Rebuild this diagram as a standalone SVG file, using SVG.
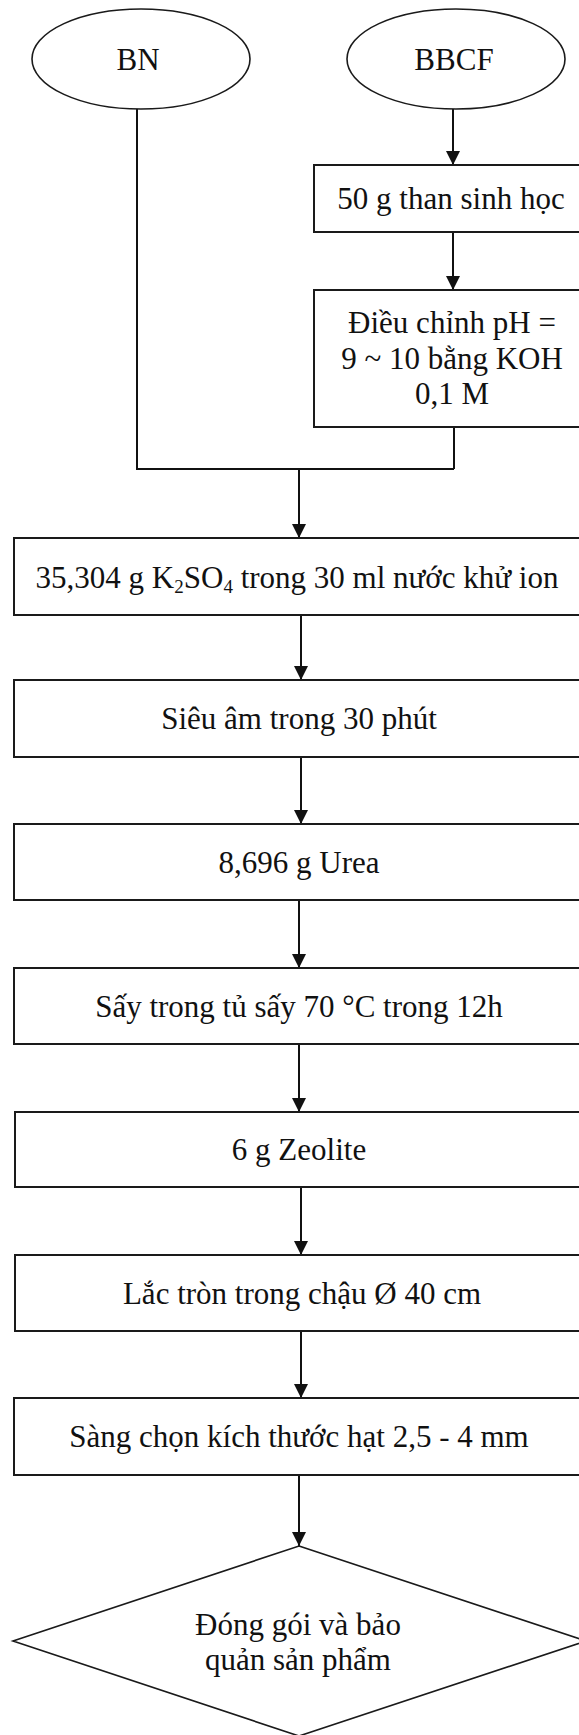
<svg xmlns="http://www.w3.org/2000/svg" width="579" height="1735" viewBox="0 0 579 1735">
<defs>
<style>
.n{fill:#fff;stroke:#1a1a1a;stroke-width:2}
.e{fill:#fff;stroke:#1a1a1a;stroke-width:1.6}
.t{font-family:"Liberation Serif","Times New Roman",serif;font-size:31px;fill:#111;text-anchor:middle}
.c{fill:none;stroke:#111;stroke-width:2}
.s{font-size:19px}
</style>
<marker id="ah" markerUnits="userSpaceOnUse" markerWidth="14" markerHeight="15" refX="14" refY="7" orient="auto">
<path d="M0,0 L14,7 L0,14 Z" fill="#111"/>
</marker>
</defs>
<rect width="579" height="1735" fill="#fff"/>
<g id="connectors">
<polyline class="c" points="137,109 137,469 454,469"/>
<line class="c" x1="454" y1="427" x2="454" y2="469"/>
<line class="c" x1="299" y1="469" x2="299" y2="538" marker-end="url(#ah)"/>
<line class="c" x1="453" y1="109" x2="453" y2="165" marker-end="url(#ah)"/>
<line class="c" x1="453" y1="232" x2="453" y2="290" marker-end="url(#ah)"/>
<line class="c" x1="301" y1="615" x2="301" y2="680" marker-end="url(#ah)"/>
<line class="c" x1="301" y1="757" x2="301" y2="824" marker-end="url(#ah)"/>
<line class="c" x1="299" y1="900" x2="299" y2="968" marker-end="url(#ah)"/>
<line class="c" x1="299" y1="1044" x2="299" y2="1112" marker-end="url(#ah)"/>
<line class="c" x1="301" y1="1187" x2="301" y2="1255" marker-end="url(#ah)"/>
<line class="c" x1="301" y1="1331" x2="301" y2="1398" marker-end="url(#ah)"/>
<line class="c" x1="299" y1="1475" x2="299" y2="1546" marker-end="url(#ah)"/>
</g>
<g id="bn">
<ellipse class="e" cx="141" cy="59" rx="109" ry="50"/>
<text class="t" x="138" y="70">BN</text>
</g>
<g id="bbcf">
<ellipse class="e" cx="456" cy="59" rx="109" ry="50"/>
<text class="t" x="454" y="70">BBCF</text>
</g>
<g id="than">
<rect class="n" x="314" y="165" width="276" height="67"/>
<text class="t" x="451" y="209">50 g than sinh học</text>
</g>
<g id="ph">
<rect class="n" x="314" y="290" width="276" height="137"/>
<text class="t" x="452" y="333">Điều chỉnh pH =</text>
<text class="t" x="452" y="369">9 ~ 10 bằng KOH</text>
<text class="t" x="452" y="404">0,1 M</text>
</g>
<g id="k2so4">
<rect class="n" x="14" y="538" width="572" height="77"/>
<text class="t" x="297" y="588">35,304 g K<tspan class="s" dy="5">2</tspan><tspan dy="-5">SO</tspan><tspan class="s" dy="5">4</tspan><tspan dy="-5"> trong 30 ml nước khử ion</tspan></text>
</g>
<g id="sieuam">
<rect class="n" x="14" y="680" width="572" height="77"/>
<text class="t" x="299" y="729">Siêu âm trong 30 phút</text>
</g>
<g id="urea">
<rect class="n" x="14" y="824" width="572" height="76"/>
<text class="t" x="299" y="873">8,696 g Urea</text>
</g>
<g id="say">
<rect class="n" x="14" y="968" width="572" height="76"/>
<text class="t" x="299" y="1017">Sấy trong tủ sấy 70 °C trong 12h</text>
</g>
<g id="zeolite">
<rect class="n" x="15" y="1112" width="571" height="75"/>
<text class="t" x="299" y="1160">6 g Zeolite</text>
</g>
<g id="lac">
<rect class="n" x="15" y="1255" width="571" height="76"/>
<text class="t" x="302" y="1304">Lắc tròn trong chậu Ø 40 cm</text>
</g>
<g id="sang">
<rect class="n" x="14" y="1398" width="572" height="77"/>
<text class="t" x="299" y="1447">Sàng chọn kích thước hạt 2,5 - 4 mm</text>
</g>
<g id="donggoi">
<polygon class="e" points="299,1546 586,1641 299,1736 13,1641"/>
<text class="t" x="298" y="1635">Đóng gói và bảo</text>
<text class="t" x="298" y="1670">quản sản phẩm</text>
</g>
</svg>
